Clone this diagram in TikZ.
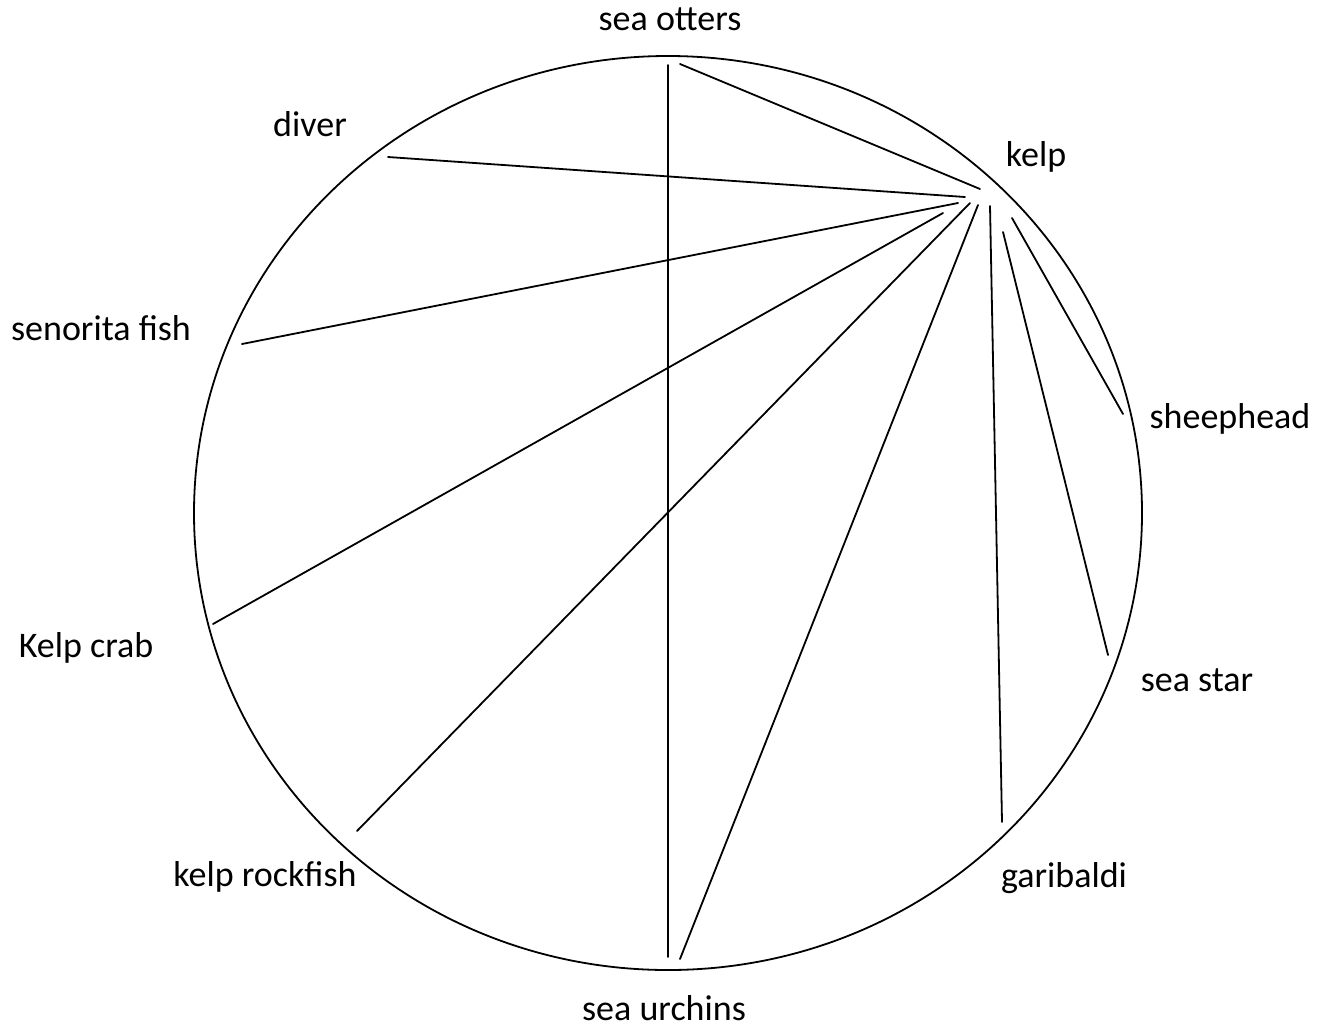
\documentclass[tikz,border=0pt]{standalone}
\usepackage{fontspec}
\setmainfont{Carlito}
\begin{document}
\begin{tikzpicture}[x=1pt,y=-1pt,
  lbl/.style={inner sep=0pt,anchor=base,font=\fontsize{36}{40}\selectfont},
  link/.style={line width=1.8pt,line cap=round},
  rim/.style={line width=1.8pt}]
\useasboundingbox (0,0) rectangle (1329,1029);
\draw[rim] (668,513) ellipse [x radius=474, y radius=457];
% labels
\node[lbl] (otters) at (670,30) {sea otters};
\node[lbl] (diver) at (310,136) {diver};
\node[lbl] (kelp) at (1036,166) {kelp};
\node[lbl] (senorita) at (101,340) {senorita fish};
\node[lbl] (sheep) at (1230,428) {sheephead};
\node[lbl] (crab) at (86,657) {Kelp crab};
\node[lbl] (star) at (1197,691) {sea star};
\node[lbl] (rock) at (265,886) {kelp rockfish};
\node[lbl] (gari) at (1064,887) {garibaldi};
\node[lbl] (urch) at (664,1020) {sea urchins};
% endpoints
\coordinate (ot1) at (668,65);
\coordinate (ot2) at (680,64);
\coordinate (us1) at (668,957);
\coordinate (us2) at (680,959);
\coordinate (dv) at (388,157);
\coordinate (sf) at (242,344);
\coordinate (kc) at (213,624);
\coordinate (kr) at (357,831);
\coordinate (gb) at (1002,822);
\coordinate (ss) at (1108,655);
\coordinate (sh) at (1123,414);
\coordinate (k1) at (980,189);
\coordinate (k2) at (965,197);
\coordinate (k3) at (958,203);
\coordinate (k4) at (943,213);
\coordinate (k5) at (970,203);
\coordinate (k6) at (978,205);
\coordinate (k7) at (990,206);
\coordinate (k8) at (1003,232);
\coordinate (k9) at (1012,218);
% connectors
\draw[link] (ot1) -- (us1);
\draw[link] (ot2) -- (k1);
\draw[link] (dv) -- (k2);
\draw[link] (sf) -- (k3);
\draw[link] (kc) -- (k4);
\draw[link] (kr) -- (k5);
\draw[link] (us2) -- (k6);
\draw[link] (gb) -- (k7);
\draw[link] (ss) -- (k8);
\draw[link] (sh) -- (k9);
\end{tikzpicture}
\end{document}
